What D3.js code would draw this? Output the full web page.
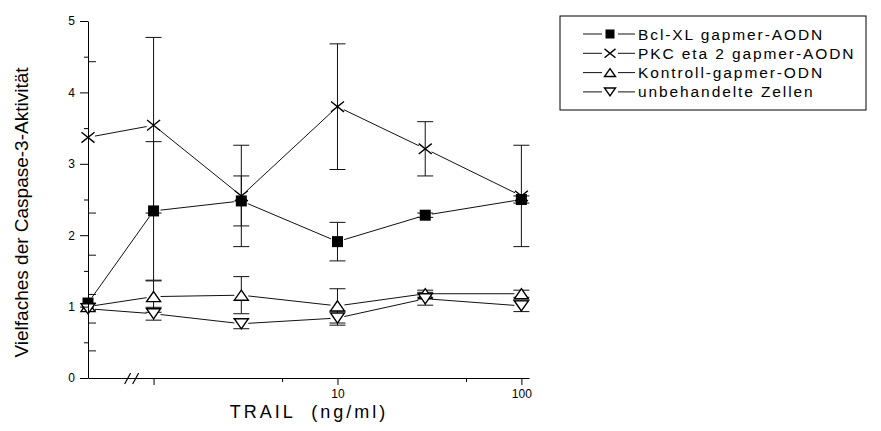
<!DOCTYPE html>
<html>
<head>
<meta charset="utf-8">
<script src="https://cdn.jsdelivr.net/npm/d3@7"></script>
<style>
  body { margin: 0; background: #fff; }
  svg { display: block; font-family: "Liberation Sans", Arial, sans-serif; }
  .axis path, .axis line { stroke: #000; stroke-width: 1; }
  .axis text { font-size: 12px; fill: #000; font-family: "Liberation Sans", Arial, sans-serif; }
</style>
</head>
<body>
<svg id="chart" width="881" height="431"></svg>
<script>
// TRAIL concentration (ng/ml); 0 sits on the left of the axis break
const conc = [0, 1, 3, 10, 30, 100];

const seriesNames = [
  'Bcl-XL gapmer-AODN',
  'PKC eta 2 gapmer-AODN',
  'Kontroll-gapmer-ODN',
  'unbehandelte Zellen'
];
const seriesSymbols = ['square', 'cross', 'up', 'down'];

const bclValues = [1.05, 2.34, 2.48, 1.91, 2.28, 2.50];
const bclErrors = [0.67, 0.97, 0.35, 0.27, 0.03, 0.05];
const pkcValues = [3.37, 3.54, 2.55, 3.80, 3.21, 2.55];
const pkcErrors = [1.06, 1.23, 0.71, 0.88, 0.38, 0.71];
const kontrollValues = [1.00, 1.14, 1.16, 1.01, 1.18, 1.18];
const kontrollErrors = [0.05, 0.22, 0.26, 0.24, 0.05, 0.05];
const unbehValues = [0.97, 0.90, 0.76, 0.84, 1.11, 1.01];
const unbehErrors = [0.20, 0.09, 0.07, 0.10, 0.09, 0.08];

const yMajorTicks = [0, 1, 2, 3, 4, 5];
const yMinorTicks = [0.5, 1.5, 2.5, 3.5, 4.5];
const xMajorTicks = [1, 10, 100];
const xMinorTicks = [5, 50];
const xTickLabels = {1: '', 10: '10', 100: '100'};

const yLabel = 'Vielfaches der Caspase-3-Aktivität';
const xLabel = 'TRAIL  (ng/ml)';

const allValues = [bclValues, pkcValues, kontrollValues, unbehValues];
const allErrors = [bclErrors, pkcErrors, kontrollErrors, unbehErrors];

const series = seriesNames.map((name, i) => ({
  name: name,
  symbol: seriesSymbols[i],
  points: conc.map((c, j) => ({c: c, v: allValues[i][j], e: allErrors[i][j]}))
}));

const svg = d3.select('#chart');
const plot = {left: 88, right: 529, top: 21, bottom: 378};

// log axis; the zero dose is parked at the lower end of the domain
const xDomain = [0.44, 110];
const x = d3.scaleLog().domain(xDomain).range([plot.left, plot.right]);
const xPos = c => c <= 0 ? x(xDomain[0]) : x(c);
const y = d3.scaleLinear().domain([0, 5]).range([plot.bottom, plot.top]);

const ink = '#111';

// symbol drawing, size = overall width in px
function drawSymbol(g, kind, size) {
  const h = size / 2;
  if (kind == 'square') {
    g.append('rect')
      .attr('x', -h).attr('y', -h)
      .attr('width', size).attr('height', size)
      .attr('fill', '#000');
  } else if (kind == 'cross') {
    const hy = h * 0.8;
    g.append('path')
      .attr('d', `M${-h},${-hy}L${h},${hy}M${-h},${hy}L${h},${-hy}`)
      .attr('stroke', '#000').attr('stroke-width', 1.4).attr('fill', 'none');
  } else {
    const hy = h * 0.72;
    const d = kind == 'up'
      ? `M0,${-hy}L${h},${hy}L${-h},${hy}Z`
      : `M0,${hy}L${h},${-hy}L${-h},${-hy}Z`;
    g.append('path')
      .attr('d', d)
      .attr('stroke', '#000').attr('stroke-width', 1.4).attr('fill', '#fff');
  }
}

// Origin-style connecting lines stop short of the markers
function gappedSegments(pts, gap) {
  let out = [];
  for (let i = 0; i < pts.length - 1; i++) {
    let [x1, y1] = pts[i], [x2, y2] = pts[i + 1];
    let dx = x2 - x1, dy = y2 - y1;
    let len = Math.hypot(dx, dy);
    if (len <= 2 * gap) continue;
    let ux = dx / len, uy = dy / len;
    out.push([x1 + ux * gap, y1 + uy * gap, x2 - ux * gap, y2 - uy * gap]);
  }
  return out;
}

svg.append('defs').append('clipPath').attr('id', 'plot-clip')
  .append('rect')
  .attr('x', plot.left).attr('y', 0)
  .attr('width', plot.right - plot.left + 20).attr('height', plot.bottom);

// error bars first (clipped at the y axis), then lines, then markers
const errG = svg.append('g').attr('clip-path', 'url(#plot-clip)');
const capW = 8;
series.forEach(s => {
  s.points.forEach(p => {
    const cx = xPos(p.c);
    const g = errG.append('g').attr('stroke', ink).attr('stroke-width', 1);
    g.append('line')
      .attr('x1', cx).attr('x2', cx)
      .attr('y1', y(p.v - p.e)).attr('y2', y(p.v + p.e));
    [p.v - p.e, p.v + p.e].forEach(v => {
      g.append('line')
        .attr('x1', cx - capW).attr('x2', cx + capW)
        .attr('y1', y(v)).attr('y2', y(v));
    });
  });
});

const lineG = svg.append('g');
series.forEach(s => {
  const pts = s.points.map(p => [xPos(p.c), y(p.v)]);
  gappedSegments(pts, 7).forEach(seg => {
    lineG.append('line')
      .attr('x1', seg[0]).attr('y1', seg[1])
      .attr('x2', seg[2]).attr('y2', seg[3])
      .attr('stroke', ink).attr('stroke-width', 1);
  });
});

const markG = svg.append('g');
series.forEach(s => {
  const size = s.symbol == 'square' ? 11 : (s.symbol == 'cross' ? 13 : 14);
  s.points.forEach(p => {
    const g = markG.append('g')
      .attr('transform', `translate(${xPos(p.c)},${y(p.v)})`);
    drawSymbol(g, s.symbol, size);
  });
});

// axes
svg.append('g').attr('class', 'axis')
  .attr('transform', `translate(${plot.left},0)`)
  .call(d3.axisLeft(y).tickValues(yMajorTicks).tickSize(8).tickSizeOuter(0)
    .tickPadding(5).tickFormat(d3.format('d')));
svg.append('g').attr('class', 'axis minor')
  .attr('transform', `translate(${plot.left},0)`)
  .call(d3.axisLeft(y).tickValues(yMinorTicks).tickSize(4).tickFormat(''))
  .select('.domain').remove();

svg.append('g').attr('class', 'axis')
  .attr('transform', `translate(0,${plot.bottom})`)
  .call(d3.axisBottom(x).tickValues(xMajorTicks).tickSize(7).tickSizeOuter(0)
    .tickPadding(4).tickFormat(d => xTickLabels[d]));
svg.append('g').attr('class', 'axis minor')
  .attr('transform', `translate(0,${plot.bottom})`)
  .call(d3.axisBottom(x).tickValues(xMinorTicks).tickSize(4).tickFormat(''))
  .select('.domain').remove();

// axis break marks between the zero dose and 1 ng/ml
const bx = x(0.76);
[-4, 4].forEach(off => {
  svg.append('line')
    .attr('x1', bx + off - 3).attr('y1', plot.bottom + 6)
    .attr('x2', bx + off + 3).attr('y2', plot.bottom - 5)
    .attr('stroke', '#000').attr('stroke-width', 1.2);
});

// axis titles
svg.append('text')
  .attr('transform', `translate(28,${(60 + 365) / 2}) rotate(-90)`)
  .attr('text-anchor', 'middle')
  .attr('font-size', 19)
  .text(yLabel);

svg.append('text')
  .attr('x', 309).attr('y', 418)
  .attr('text-anchor', 'middle')
  .attr('font-size', 18)
  .attr('letter-spacing', 3)
  .style('white-space', 'pre')
  .text(xLabel);

// legend
const legend = svg.append('g').attr('transform', 'translate(560,16)');
legend.append('rect')
  .attr('width', 306).attr('height', 94)
  .attr('fill', 'none').attr('stroke', '#000').attr('stroke-width', 1);
series.forEach((s, i) => {
  const row = legend.append('g').attr('transform', `translate(0,${18 + i * 19.3})`);
  row.append('line').attr('x1', 23).attr('x2', 42).attr('stroke', ink);
  row.append('line').attr('x1', 58).attr('x2', 75).attr('stroke', ink);
  const m = row.append('g').attr('transform', 'translate(50,0)');
  drawSymbol(m, s.symbol, s.symbol == 'square' ? 9 : 11);
  row.append('text')
    .attr('x', 78).attr('y', 5.5)
    .attr('font-size', 15.5)
    .attr('letter-spacing', 1.9)
    .text(s.name);
});
</script>
</body>
</html>
